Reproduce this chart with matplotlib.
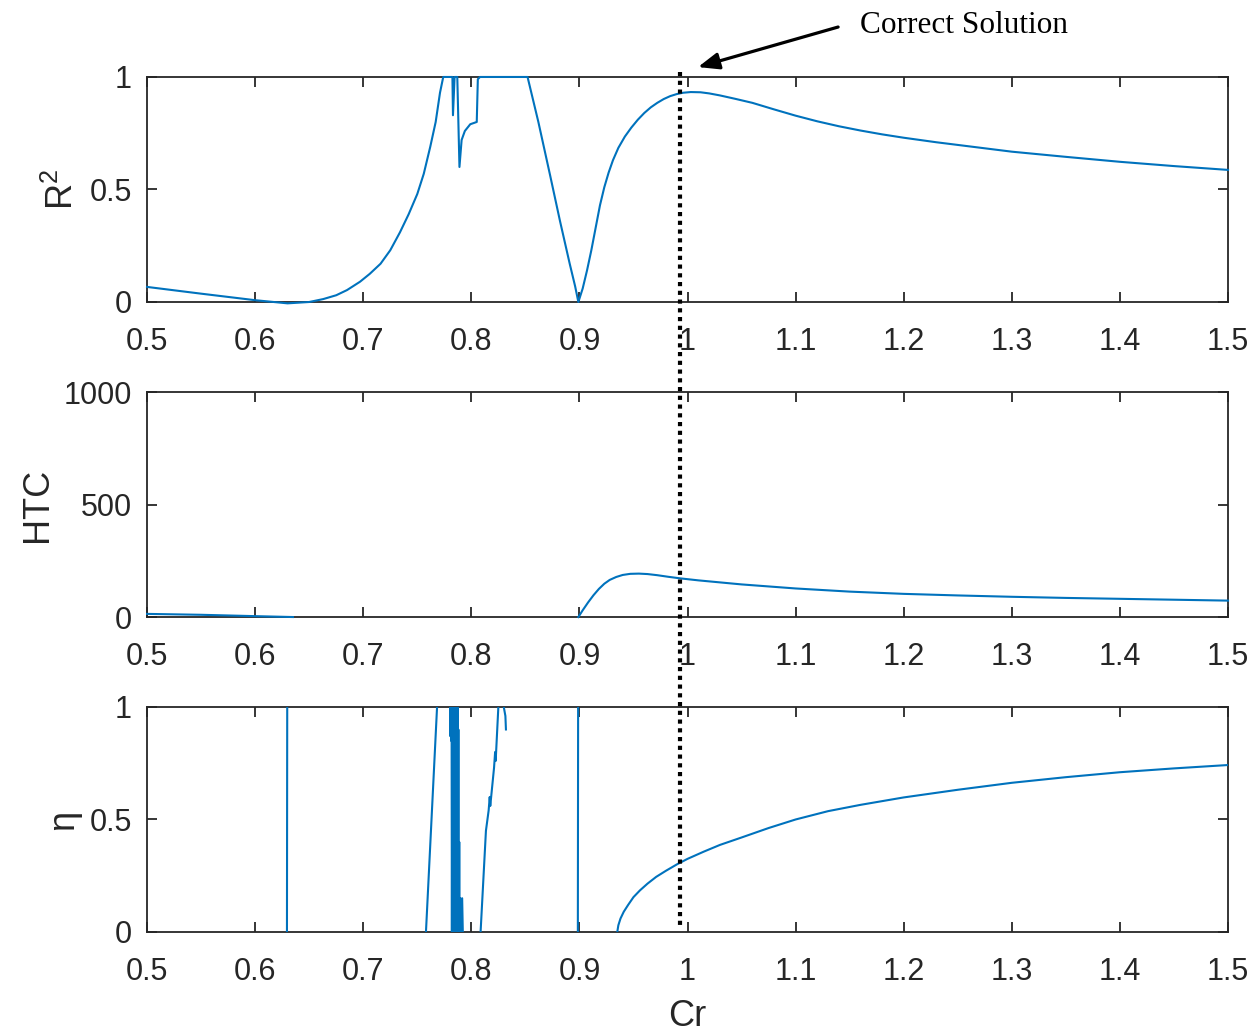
import numpy as np
import matplotlib
matplotlib.use('Agg')
import matplotlib.pyplot as plt
from matplotlib.lines import Line2D
from matplotlib.transforms import blended_transform_factory

# ---------- MATLAB-like style ----------
plt.rcParams.update({
    'font.family': ['Liberation Sans', 'DejaVu Sans'],
    'mathtext.default': 'regular',
    'axes.edgecolor': '#262626',
    'axes.labelcolor': '#262626',
    'xtick.color': '#262626',
    'ytick.color': '#262626',
    'axes.linewidth': 1.3,
    'figure.facecolor': 'white',
})

LINE_BLUE = '#0072BD'
NAN = np.nan

# ---------- Data ----------
cr_ticks = [0.5, 0.6, 0.7, 0.8, 0.9, 1.0, 1.1, 1.2, 1.3, 1.4, 1.5]
cr_labels = ['0.5', '0.6', '0.7', '0.8', '0.9', '1', '1.1', '1.2', '1.3', '1.4', '1.5']
correct_cr = 0.993

# R^2 vs Cr
r2_x = [0.50, 0.55, 0.60, 0.63, 0.65, 0.663, 0.675, 0.685, 0.697, 0.706, 0.716, 0.725,
        0.734, 0.742, 0.750, 0.756, 0.762, 0.767, 0.771, 0.774, 0.780, 0.7825, 0.783,
        0.7845, 0.787, 0.789, 0.791, 0.794, 0.799, 0.805, 0.806, 0.808, 0.852, 0.862,
        0.873, 0.882, 0.891, 0.896, 0.899, 0.903, 0.907, 0.911, 0.915, 0.919, 0.923,
        0.927, 0.931, 0.936, 0.942, 0.948, 0.954, 0.960, 0.966, 0.972, 0.978, 0.984,
        0.990, 0.996, 1.003, 1.012, 1.02, 1.03, 1.044, 1.06, 1.08, 1.10, 1.12, 1.14,
        1.16, 1.18, 1.20, 1.23, 1.26, 1.30, 1.35, 1.40, 1.45, 1.50]
r2_y = [0.067, 0.037, 0.008, -0.006, 0.000, 0.013, 0.030, 0.053, 0.090, 0.125, 0.170, 0.230,
        0.310, 0.390, 0.480, 0.570, 0.690, 0.800, 0.930, 1.000, 1.000, 1.000, 0.830,
        1.000, 1.000, 0.600, 0.720, 0.760, 0.790, 0.800, 0.990, 1.000, 1.000, 0.800,
        0.560, 0.360, 0.170, 0.070, 0.000, 0.060, 0.140, 0.230, 0.330, 0.430, 0.510,
        0.575, 0.630, 0.685, 0.735, 0.775, 0.810, 0.840, 0.865, 0.885, 0.902, 0.915,
        0.924, 0.930, 0.933, 0.932, 0.927, 0.918, 0.903, 0.885, 0.856, 0.828, 0.803, 0.781,
        0.762, 0.745, 0.730, 0.710, 0.692, 0.668, 0.645, 0.623, 0.604, 0.587]

# HTC vs Cr (two branches)
htc_x = [0.50, 0.55, 0.60, 0.635, NAN,
         0.899, 0.903, 0.908, 0.913, 0.918, 0.923, 0.928, 0.934, 0.940, 0.947, 0.955,
         0.963, 0.972, 0.982, 0.993, 1.01, 1.05, 1.10, 1.15, 1.20, 1.25, 1.30, 1.35,
         1.40, 1.45, 1.50]
htc_y = [14, 10, 4, 0, NAN,
         0, 30, 65, 97, 125, 148, 165, 178, 187, 192, 193,
         191, 186, 179, 172, 163, 145, 127, 113, 103, 96, 90, 85,
         81, 77, 73]

# efficiency vs Cr (jumps leave the 0..1 window and get clipped)
eta_x = [0.6294, 0.6297, NAN,
         0.7575, 0.7688, NAN,
         0.7803, 0.7806, 0.7810, 0.7813, 0.7817, 0.7820, 0.7824, 0.7828, 0.7832, 0.7836,
         0.7840, 0.7844, 0.7848, 0.7852, 0.7856, 0.7860, 0.7864, 0.7868, 0.7872, 0.7876,
         0.7880, 0.7884, 0.7888, 0.7892, 0.7897, 0.7905, 0.7915, 0.7925, NAN,
         0.808, 0.8135, 0.816, 0.817, 0.8175, 0.821, 0.822, 0.8225, 0.8255, 0.828, 0.830,
         0.8315, 0.832, NAN,
         0.8985, 0.8988, NAN,
         0.935, 0.936, 0.938, 0.941, 0.945, 0.950, 0.956, 0.963, 0.971, 0.980, 0.990,
         1.000, 1.015, 1.03, 1.05, 1.075, 1.10, 1.13, 1.16, 1.20, 1.25, 1.30, 1.35,
         1.40, 1.45, 1.50]
eta_y = [-0.1, 1.1, NAN,
         -0.05, 1.05, NAN,
         1.1, 0.87, 1.1, 0.85, 1.1, -0.1, 1.1, -0.1, 1.1, -0.1,
         1.1, 0.3, 1.1, -0.1, 1.1, -0.1, 1.1, -0.1, 1.1, -0.1,
         0.9, -0.1, 0.4, -0.1, 0.15, -0.1, 0.15, -0.1, NAN,
         -0.05, 0.45, 0.54, 0.60, 0.56, 0.73, 0.80, 0.76, 1.05, 1.05, 1.0,
         0.96, 0.90, NAN,
         -0.1, 1.1, NAN,
         0.0, 0.03, 0.06, 0.09, 0.12, 0.155, 0.185, 0.215, 0.245, 0.272, 0.300,
         0.325, 0.357, 0.387, 0.420, 0.462, 0.500, 0.537, 0.565, 0.598, 0.632, 0.663, 0.688,
         0.710, 0.727, 0.742]

panels = [
    (r2_x, r2_y, 'R$^2$', [0, 0.5, 1], ['0', '0.5', '1'], (0, 1), False),
    (htc_x, htc_y, 'HTC', [0, 500, 1000], ['0', '500', '1000'], (0, 1000), False),
    (eta_x, eta_y, 'η', [0, 0.5, 1], ['0', '0.5', '1'], (0, 1), True),
]

# ---------- Figure ----------
fig = plt.figure(figsize=(12.59, 10.36), dpi=100)
left, width, height = 0.1168, 0.8586, 0.2172
bottoms = [0.7085, 0.4044, 0.1004]

axes = []
for (x, y, lab, yt, ytl, ylim, clip), b in zip(panels, bottoms):
    ax = fig.add_axes([left, b, width, height])
    ax.plot(x, y, color=LINE_BLUE, linewidth=1.5, clip_on=clip, zorder=3)
    ax.set_xlim(0.5, 1.5)
    ax.set_ylim(*ylim)
    ax.set_xticks(cr_ticks)
    ax.set_xticklabels(cr_labels)
    ax.set_yticks(yt)
    ax.set_yticklabels(ytl)
    ax.tick_params(direction='in', top=True, right=True, length=7, width=1.3,
                   labelsize=22)
    ax.tick_params(axis='x', pad=18)
    ax.tick_params(axis='y', pad=11)
    ax.set_ylabel(lab, fontsize=26, labelpad=6)
    axes.append(ax)

axes[-1].set_xlabel('Cr', fontsize=26, labelpad=9)

# ---------- Dotted marker at the correct solution (spans all panels) ----------
trans = blended_transform_factory(axes[0].transData, fig.transFigure)
fig.add_artist(Line2D([correct_cr, correct_cr], [1 - 72 / 1036, 1 - 925 / 1036],
                      transform=trans, color='black', linewidth=3,
                      linestyle=(0, (1, 1.1))))

# ---------- Annotation ----------
ax0 = axes[0]
ax0.annotate('', xy=(0.5097, 1.044), xytext=(0.6393, 1.222),
             xycoords='axes fraction', textcoords='axes fraction',
             arrowprops=dict(arrowstyle='-|>,head_length=0.45,head_width=0.18',
                             mutation_scale=28, lw=2.3, color='black',
                             shrinkA=0, shrinkB=0))
ax0.text(0.6596, 1.228, 'Correct Solution', transform=ax0.transAxes,
         fontsize=22.5, family=['Liberation Serif', 'DejaVu Serif'],
         ha='left', va='center', color='black')

fig.savefig('out.png', dpi=100)
plt.close(fig)
